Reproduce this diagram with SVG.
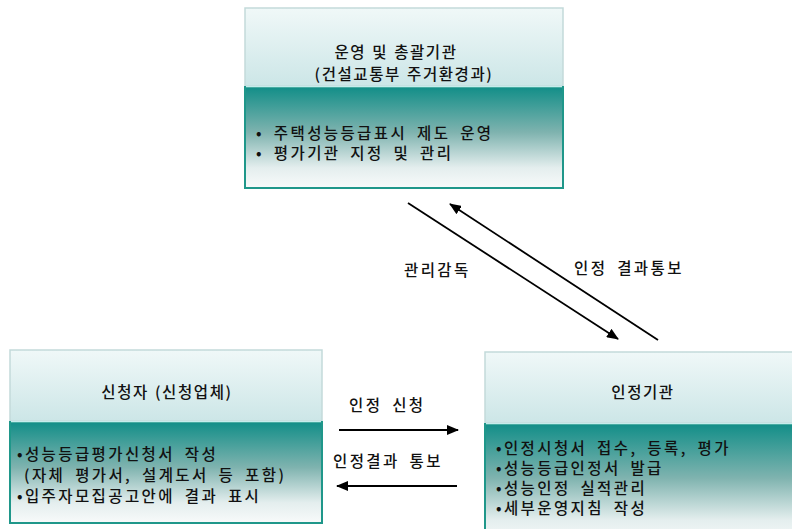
<svg xmlns="http://www.w3.org/2000/svg" width="792" height="529" viewBox="0 0 792 529">
  <defs>
    <linearGradient id="headFill" x1="0" y1="0" x2="0" y2="1">
      <stop offset="0" stop-color="#f0f8f8"/>
      <stop offset="1" stop-color="#cce6e7"/>
    </linearGradient>
    <linearGradient id="bodyFill" x1="0" y1="0" x2="0" y2="1">
      <stop offset="0" stop-color="#128e88"/>
      <stop offset="0.45" stop-color="#7fb3af"/>
      <stop offset="0.8" stop-color="#e4eeee"/>
      <stop offset="1" stop-color="#f8fafa"/>
    </linearGradient>
    <marker id="arrow" viewBox="0 0 12 10" refX="11" refY="5" markerWidth="12" markerHeight="10" markerUnits="userSpaceOnUse" orient="auto">
      <path d="M0,0 L12,5 L0,10 Z" fill="#000"/>
    </marker>
    <style>
      .head { fill: url(#headFill); stroke: #c3dada; stroke-width: 1.5; }
      .body { fill: url(#bodyFill); stroke: #1f978a; stroke-width: 2; }
      .sep { stroke: #c6ecec; stroke-width: 1.5; }
      text { font-family: "Noto Sans CJK KR", "Noto Sans", sans-serif; font-size: 15.5px; font-weight: 500; fill: #111; letter-spacing: 2.4px; word-spacing: 4px; }
      .title { text-anchor: middle; letter-spacing: 1.6px; word-spacing: 1px; }
      .link { stroke: #000; stroke-width: 1.8; fill: none; marker-end: url(#arrow); }
    </style>
  </defs>

  <rect width="792" height="529" fill="#ffffff"/>

  <!-- top: operating agency -->
  <g id="node-operator">
    <rect class="head" x="245" y="8" width="318" height="78"/>
    <rect class="body" x="245" y="87" width="318" height="101"/>
    <line class="sep" x1="246" y1="86.5" x2="562" y2="86.5"/>
    <text class="title" x="396" y="58">운영 및 총괄기관</text>
    <text class="title" x="404" y="80">(건설교통부 주거환경과)</text>
    <text x="256" y="139">• 주택성능등급표시 제도 운영</text>
    <text x="256" y="159">• 평가기관 지정 및 관리</text>
  </g>

  <!-- bottom left: applicant -->
  <g id="node-applicant">
    <rect class="head" x="10" y="350" width="312" height="71"/>
    <rect class="body" x="10" y="422" width="312" height="101"/>
    <line class="sep" x1="11" y1="421.5" x2="321" y2="421.5"/>
    <text class="title" x="167" y="398">신청자 (신청업체)</text>
    <text x="17" y="460">•성능등급평가신청서 작성</text>
    <text x="24" y="481">(자체 평가서, 설계도서 등 포함)</text>
    <text x="17" y="502">•입주자모집공고안에 결과 표시</text>
  </g>

  <!-- bottom right: certification body -->
  <g id="node-certifier">
    <rect class="head" x="485" y="352" width="320" height="71"/>
    <rect class="body" x="485" y="424" width="320" height="120"/>
    <line class="sep" x1="486" y1="423.5" x2="800" y2="423.5"/>
    <text class="title" x="643" y="398">인정기관</text>
    <text x="496" y="454">•인정시청서 접수, 등록, 평가</text>
    <text x="496" y="474">•성능등급인정서 발급</text>
    <text x="496" y="494">•성능인정 실적관리</text>
    <text x="496" y="514">•세부운영지침 작성</text>
  </g>

  <!-- connectors -->
  <g id="connectors">
    <line class="link" x1="408" y1="203" x2="618" y2="339"/>
    <line class="link" x1="658" y1="340" x2="450" y2="204"/>
    <line class="link" x1="339" y1="430" x2="458" y2="430"/>
    <line class="link" x1="457" y1="486" x2="337" y2="486"/>
    <text x="404" y="276">관리감독</text>
    <text x="574" y="274">인정 결과통보</text>
    <text x="349" y="411">인정 신청</text>
    <text x="333" y="467">인정결과 통보</text>
  </g>
</svg>
